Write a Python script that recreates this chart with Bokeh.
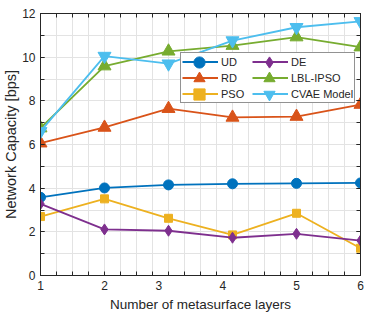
import numpy as np
from bokeh.plotting import figure
from bokeh.models import FixedTicker, LinearAxis, Legend, LegendItem, Range1d, ColumnDataSource
from bokeh.embed import file_html
from bokeh.resources import INLINE

layers = [1, 2, 3, 4, 5, 6]
ud = [3.58, 4.01, 4.15, 4.20, 4.22, 4.24]
rd = [6.06, 6.78, 7.64, 7.24, 7.28, 7.83]
pso = [2.70, 3.51, 2.62, 1.86, 2.85, 1.25]
de = [3.28, 2.11, 2.05, 1.73, 1.91, 1.60]
lbl_ipso = [6.75, 9.59, 10.27, 10.53, 10.92, 10.46]
cvae = [6.60, 10.05, 9.70, 10.76, 11.37, 11.64]

x_tick_pos = [1, 2, 2.85, 3.85, 5, 6]
x_tick_labels = ["1", "2", "3", "4", "5", "6"]
x_minor = [1 + 0.25 * i for i in range(21)]
y_ticks = [0, 2, 4, 6, 8, 10, 12]
y_minor = list(range(13))

FONT = "Liberation Sans"
TXT = "#262626"

p = figure(width=373, height=316, output_backend="svg", toolbar_location=None,
           x_range=Range1d(1, 6), y_range=Range1d(0, 12),
           min_border_left=38, min_border_right=13, min_border_top=13, min_border_bottom=41)
p.outline_line_color = TXT
p.outline_line_width = 1

xt = FixedTicker(ticks=x_tick_pos, minor_ticks=x_minor)
yt = FixedTicker(ticks=y_ticks, minor_ticks=y_minor)
p.xaxis.ticker = xt
p.yaxis.ticker = yt
p.xaxis.major_label_overrides = {pos: lab for pos, lab in zip(x_tick_pos, x_tick_labels)}

for ax in (p.xaxis[0], p.yaxis[0]):
    ax.axis_line_color = TXT
    ax.major_tick_in = 4
    ax.major_tick_out = 0
    ax.minor_tick_in = 4
    ax.minor_tick_out = 0
    ax.major_tick_line_color = TXT
    ax.minor_tick_line_color = TXT
    ax.major_label_text_font = FONT
    ax.major_label_text_font_size = "12px"
    ax.major_label_text_color = TXT
    ax.axis_label_text_font = FONT
    ax.axis_label_text_font_style = "normal"
    ax.axis_label_text_color = TXT
    ax.major_label_standoff = 5
p.xaxis.major_tick_line_color = None
p.xaxis.axis_label = "Number of metasurface layers"
p.yaxis.axis_label = "Network Capacity [bps]"
p.xaxis.axis_label_text_font_size = "13.5px"
p.yaxis.axis_label_text_font_size = "14.5px"
p.xaxis.axis_label_standoff = 4
p.yaxis.axis_label_standoff = 0

for side, tk in (("above", xt), ("right", yt)):
    a = LinearAxis(ticker=tk, major_label_text_font_size="0px", major_label_standoff=0,
                   major_tick_in=4, major_tick_out=0, minor_tick_in=4, minor_tick_out=0,
                   axis_line_color=TXT, major_tick_line_color=TXT, minor_tick_line_color=TXT)
    if side == "above":
        a.major_tick_line_color = None
    p.add_layout(a, side)

p.xgrid.ticker = xt
p.ygrid.ticker = yt
p.xgrid.grid_line_color = None
p.xgrid.minor_grid_line_color = "#e3e3e3"
p.ygrid.grid_line_color = "#e3e3e3"
p.ygrid.minor_grid_line_color = "#e3e3e3"

series = [
    ("UD", ud, "#0072BD", "circle", 10),
    ("RD", rd, "#D95319", "triangle", 13),
    ("PSO", pso, "#EDB120", "square", 8),
    ("DE", de, "#7E2F8E", "diamond", 11),
    ("LBL-IPSO", lbl_ipso, "#77AC30", "triangle", 13),
    ("CVAE Model", cvae, "#4DBEEE", "inverted_triangle", 13),
]
lines = {}
marks = {}
for name, ys, col, mk, sz in series:
    src = ColumnDataSource(dict(x=layers, y=ys))
    lines[name] = p.line("x", "y", source=src, line_color=col, line_width=1.8)
    marks[name] = p.scatter("x", "y", source=src, marker=mk, size=sz,
                            fill_color=col, line_color=col)

FL, FB = 38, 275
order = ["UD", "RD", "PSO", "DE", "LBL-IPSO", "CVAE Model"]
main = Legend(items=[LegendItem(label=n, renderers=[lines[n]]) for n in order],
              location=(178 - FL, FB - 103), nrows=3,
              glyph_width=36, glyph_height=15, spacing=1, padding=1, margin=0,
              label_width=30, label_standoff=3, label_text_font=FONT, label_text_font_size="11px",
              label_text_color=TXT, border_line_color=TXT, border_line_width=1,
              background_fill_alpha=1.0)
p.add_layout(main, "center")

rows = [("UD", "DE"), ("RD", "LBL-IPSO"), ("PSO", "CVAE Model")]
for i, (a, b) in enumerate(rows):
    ov = Legend(items=[LegendItem(label=" ", renderers=[marks[a]]),
                       LegendItem(label=" ", renderers=[marks[b]])],
                location=(179 - FL, FB - int(76.5 + 16 * i)), orientation="horizontal",
                glyph_width=36, glyph_height=28, spacing=1, padding=0, margin=0,
                label_width=30, label_standoff=3, label_text_font_size="11px",
                border_line_color=None, background_fill_alpha=0.0)
    p.add_layout(ov, "center")

open("out.html", "w").write(file_html(p, INLINE))
